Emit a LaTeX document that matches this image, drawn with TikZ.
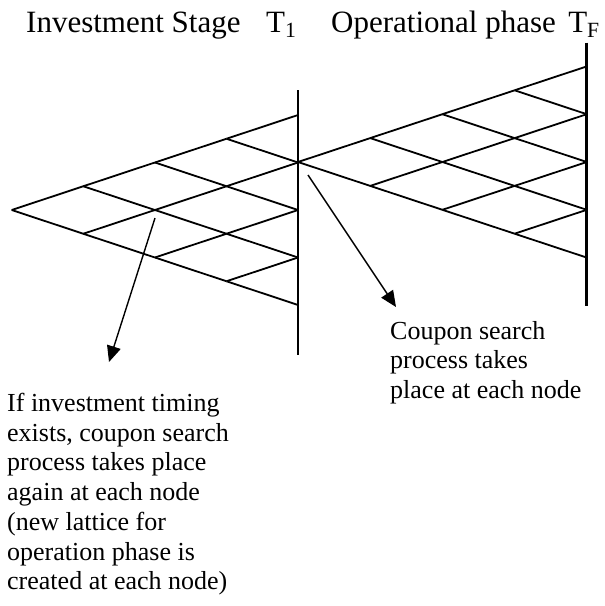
\documentclass[tikz,border=0pt]{standalone}
\usepackage{fontspec}
\setmainfont{Liberation Serif}
\usetikzlibrary{arrows.meta}
\begin{document}
\begin{tikzpicture}[x=1pt,y=-1pt,
  lat/.style={line width=1.8pt},
  axisline/.style={line width=2.6pt},
  ptr/.style={line width=1.4pt,-{Triangle[length=16pt,width=14pt]}},
  ttl/.style={font=\fontsize{31}{35}\selectfont, anchor=base west, inner sep=0pt},
  txt/.style={font=\fontsize{26}{29.7}\selectfont, anchor=north west, align=left, inner sep=0pt}]
\useasboundingbox (0,0) rectangle (605,606);
% left lattice coordinates
\foreach \i in {0,...,4}{
  \foreach \j in {0,...,\i}{
    \pgfmathsetmacro{\xx}{11.7+\i*71.6}
    \pgfmathsetmacro{\yy}{210+(2*\j-\i)*23.75}
    \coordinate (L\i-\j) at (\xx,\yy);
  }
}
% right lattice coordinates
\foreach \i in {0,...,4}{
  \foreach \j in {0,...,\i}{
    \pgfmathsetmacro{\xx}{298+\i*72.2}
    \pgfmathsetmacro{\yy}{162+(2*\j-\i)*23.9}
    \coordinate (R\i-\j) at (\xx,\yy);
  }
}
% lattice edges
\foreach \i in {0,...,3}{
  \foreach \j in {0,...,\i}{
    \pgfmathtruncatemacro{\ip}{\i+1}
    \pgfmathtruncatemacro{\jp}{\j+1}
    \draw[lat] (L\i-\j) -- (L\ip-\j);
    \draw[lat] (L\i-\j) -- (L\ip-\jp);
    \draw[lat] (R\i-\j) -- (R\ip-\j);
    \draw[lat] (R\i-\j) -- (R\ip-\jp);
  }
}
% vertical time lines
\coordinate (T1top) at (298,90);
\coordinate (T1bot) at (298,355);
\coordinate (TFtop) at (586.7,42.7);
\coordinate (TFbot) at (586.7,306);
\draw[axisline] (T1top) -- (T1bot);
\draw[axisline] (TFtop) -- (TFbot);
% titles
\node[ttl] (tinv) at (26,32) {Investment Stage};
\node[ttl] (tone) at (266,32) {T\textsubscript{1}};
\node[ttl] (top) at (331,32) {Operational phase};
\node[ttl, anchor=base east] (tf) at (600,32) {T\textsubscript{F}};
% texts
\node[txt] (lefttext) at (7,393) {If investment timing\\exists, coupon search\\process takes place\\again at each node\\(new lattice for\\operation phase is\\created at each node)};
\node[txt] (righttext) at (390,321) {Coupon search\\process takes\\place at each node};
% arrows
\coordinate (a1s) at (155,218);
\coordinate (a1e) at (109,362);
\coordinate (a2s) at (308,175);
\coordinate (a2e) at (396,307);
\draw[ptr] (a1s) -- (a1e);
\draw[ptr] (a2s) -- (a2e);
\end{tikzpicture}
\end{document}
